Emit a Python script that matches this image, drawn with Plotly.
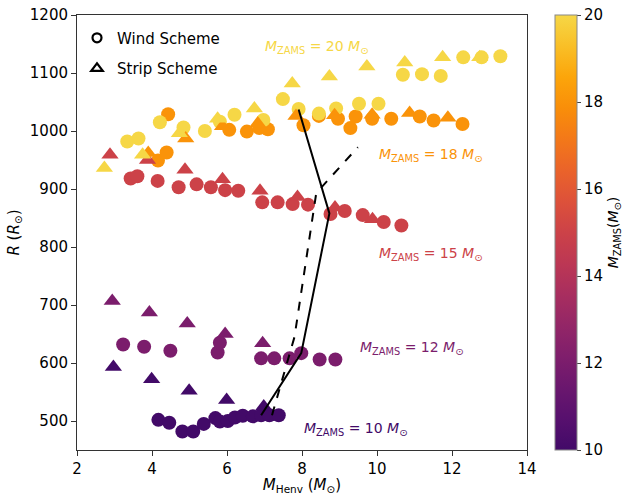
import plotly.graph_objects as go

# ---------------- data ----------------
m10_wind_x = [4.17, 4.46, 4.81, 5.10, 5.38, 5.69, 5.81, 6.02, 6.21, 6.42, 6.69, 6.91, 7.13, 7.38]
m10_wind_y = [502, 497, 482, 482, 495, 505, 499, 500, 506, 509, 508, 510, 510, 510]
m10_strip_x = [2.97, 3.99, 4.99, 5.99, 6.98]
m10_strip_y = [593, 572, 552, 536, 525]

m12_wind_x = [3.23, 3.79, 4.49, 5.75, 5.81, 6.91, 7.26, 7.67, 7.98, 8.47, 8.89]
m12_wind_y = [632, 628, 621, 618, 635, 608, 608, 608, 617, 606, 606]
m12_strip_x = [2.94, 3.93, 4.94, 5.95, 6.95]
m12_strip_y = [707, 687, 668, 650, 634]

m15_wind_x = [3.43, 3.61, 4.15, 4.71, 5.19, 5.57, 5.95, 6.30, 6.94, 7.35, 7.75, 8.16, 8.76, 9.14, 9.62, 10.18, 10.65]
m15_wind_y = [918, 922, 914, 903, 908, 903, 898, 897, 877, 877, 874, 873, 857, 862, 855, 843, 837]
m15_strip_x = [2.88, 3.88, 4.88, 5.88, 6.88, 7.88, 8.88, 9.88]
m15_strip_y = [959, 950, 933, 917, 897, 886, 868, 848]

m18_wind_x = [4.16, 4.39, 4.43, 6.06, 6.53, 6.86, 7.09, 8.04, 8.45, 8.96, 9.29, 9.43, 9.87, 10.38, 11.14, 11.51, 12.28]
m18_wind_y = [949, 963, 1029, 1002, 999, 1005, 1003, 1010, 1026, 1021, 1005, 1025, 1021, 1021, 1025, 1018, 1012]
m18_strip_x = [3.90, 4.90, 5.88, 6.82, 7.84, 8.87, 9.87, 10.87, 11.89]
m18_strip_y = [962, 987, 1008, 1013, 1026, 1027, 1028, 1031, 1023]

m20_wind_x = [3.34, 3.64, 4.21, 4.84, 5.41, 5.81, 6.20, 6.97, 7.49, 7.91, 8.45, 8.91, 9.52, 10.04,
              10.69, 11.20, 11.70, 12.30, 12.79, 13.29]
m20_wind_y = [982, 987, 1015, 1006, 1000, 1016, 1028, 1019, 1055, 1038, 1030, 1039, 1047, 1047,
              1097, 1098, 1095, 1127, 1127, 1129]
m20_strip_x = [2.73, 3.75, 4.73, 5.75, 6.73, 7.74, 8.73, 9.73, 10.74, 11.75, 12.74]
m20_strip_y = [936, 959, 996, 1021, 1039, 1082, 1094, 1111, 1118, 1127, 1127]

masses = [10, 12, 15, 18, 20]
wind = {10: (m10_wind_x, m10_wind_y), 12: (m12_wind_x, m12_wind_y), 15: (m15_wind_x, m15_wind_y),
        18: (m18_wind_x, m18_wind_y), 20: (m20_wind_x, m20_wind_y)}
strip = {10: (m10_strip_x, m10_strip_y), 12: (m12_strip_x, m12_strip_y), 15: (m15_strip_x, m15_strip_y),
         18: (m18_strip_x, m18_strip_y), 20: (m20_strip_x, m20_strip_y)}

solid_x = [6.91, 7.98, 8.73, 8.03, 7.91]
solid_y = [510, 617, 858, 1011, 1037]
dashed_x = [7.20, 7.80, 8.38, 9.49]
dashed_y = [510, 645, 893, 972]

label_x = [7.99, 9.48, 9.99, 9.99, 6.97]
label_y = [486, 626, 788, 959, 1145]

# truncated inferno (0.2 .. 0.9)
inferno_part = ["#420a68", "#57106e", "#6a176e", "#7f1e6c", "#932667", "#a82e5f", "#bc3754",
                "#cc4248", "#dd513a", "#ea632a", "#f37819", "#f98e09", "#fca50a", "#f9bf27", "#f6d746"]
n = len(inferno_part)
colorscale = [[i / (n - 1), c] for i, c in enumerate(inferno_part)]


def hex2rgb(h):
    h = h.lstrip("#")
    return tuple(int(h[i:i + 2], 16) for i in (0, 2, 4))


def color_at(m):
    t = (m - 10) / 10 * (n - 1)
    i = min(int(t), n - 2)
    f = t - i
    a, b = hex2rgb(inferno_part[i]), hex2rgb(inferno_part[i + 1])
    c = [round(a[k] + (b[k] - a[k]) * f) for k in range(3)]
    return "rgb(%d,%d,%d)" % tuple(c)


FONT = "DejaVu Sans"
fig = go.Figure()

for m in masses:
    x, y = wind[m]
    fig.add_trace(go.Scatter(x=x, y=y, mode="markers", showlegend=False,
                             marker=dict(symbol="circle", size=14, color=[m] * len(x),
                                         coloraxis="coloraxis", line=dict(width=0))))
for m in masses:
    x, y = strip[m]
    fig.add_trace(go.Scatter(x=x, y=y, mode="markers", showlegend=False,
                             marker=dict(symbol="triangle-up", size=15, color=[m] * len(x),
                                         coloraxis="coloraxis", line=dict(width=0))))

fig.add_trace(go.Scatter(x=solid_x, y=solid_y, mode="lines", showlegend=False,
                         line=dict(color="black", width=2)))
fig.add_trace(go.Scatter(x=dashed_x, y=dashed_y, mode="lines", showlegend=False,
                         line=dict(color="black", width=2, dash="dash")))

# legend entries
fig.add_trace(go.Scatter(x=[None], y=[None], mode="markers", name="Wind Scheme", legendgroup="a",
                         marker=dict(symbol="circle-open", size=9, color="black", line=dict(width=2.2))))
fig.add_trace(go.Scatter(x=[None], y=[None], mode="markers", name="Strip Scheme", legendgroup="b",
                         marker=dict(symbol="triangle-up-open", size=10, color="black", line=dict(width=2.2))))

for m, lx, ly in zip(masses, label_x, label_y):
    fig.add_annotation(x=lx, y=ly, xref="x", yref="y", xanchor="left", yanchor="middle", showarrow=False,
                       text="<i>M</i><sub>ZAMS</sub> = %d <i>M</i><sub>⊙</sub>" % m,
                       font=dict(family=FONT, size=14, color=color_at(m)))

axis_common = dict(showline=True, linecolor="#333", linewidth=1, mirror=True, ticks="outside",
                   ticklen=5, tickcolor="#333", showgrid=False, zeroline=False,
                   tickfont=dict(family=FONT, size=15, color="black"))

fig.update_layout(
    width=624, height=495,
    margin=dict(l=77, r=97, t=15, b=45, autoexpand=False),
    paper_bgcolor="white", plot_bgcolor="white",
    font=dict(family=FONT, size=15, color="black"),
    xaxis=dict(range=[2, 14], tickvals=[2, 4, 6, 8, 10, 12, 14],
               title=dict(text="<i>M</i><sub>Henv</sub> (<i>M</i><sub>⊙</sub>)", standoff=2,
                          font=dict(family=FONT, size=15)), **axis_common),
    yaxis=dict(range=[450, 1200], tickvals=[500, 600, 700, 800, 900, 1000, 1100, 1200],
               title=dict(text="<i>R</i> (<i>R</i><sub>⊙</sub>)", standoff=6,
                          font=dict(family=FONT, size=15)), **axis_common),
    coloraxis=dict(cmin=10, cmax=20, colorscale=colorscale,
                   colorbar=dict(x=1.058, xanchor="left", xpad=2, y=0.5, yanchor="middle", len=1.0,
                                 lenmode="fraction", ypad=0,
                                 thickness=22, outlinewidth=1, outlinecolor="#888",
                                 tickvals=[10, 12, 14, 16, 18, 20], ticks="outside", ticklen=4,
                                 tickfont=dict(family=FONT, size=15),
                                 title=dict(text="<i>M</i><sub>ZAMS</sub>(<i>M</i><sub>⊙</sub>)", side="right",
                                            font=dict(family=FONT, size=14)))),
    legend=dict(x=0.0, y=0.985, xanchor="left", yanchor="top", bgcolor="rgba(0,0,0,0)",
                font=dict(family=FONT, size=15), tracegroupgap=8),
)

fig.write_html("out.html")
